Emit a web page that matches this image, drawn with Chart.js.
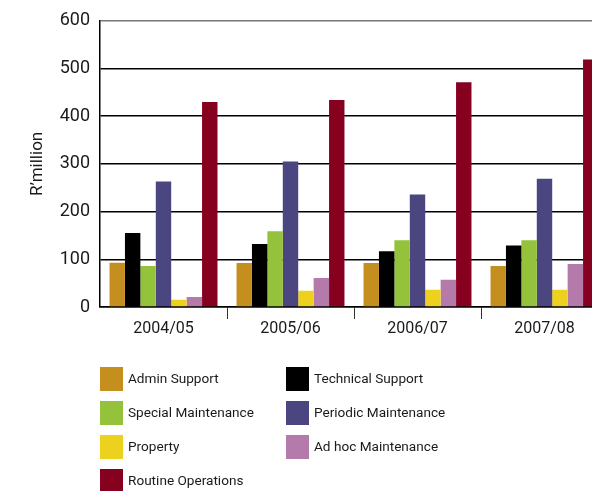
<!DOCTYPE html>
<html>
<head>
<meta charset="utf-8">
<script src="https://cdn.jsdelivr.net/npm/chart.js@4.4.0/dist/chart.umd.min.js"></script>
<style>
  html, body { margin: 0; padding: 0; background: #fff; overflow: hidden; }
  #wrap { width: 592px; height: 491px; overflow: hidden; }
</style>
</head>
<body>
<div id="wrap"><canvas id="myChart" width="608" height="491"></canvas></div>
<script>
// data (R'million)
const categories = ['2004/05', '2005/06', '2006/07', '2007/08'];
const adminSupport = [93, 92, 92, 86];
const technicalSupport = [155, 132, 117, 129];
const specialMaintenance = [86, 159, 140, 140];
const periodicMaintenance = [263, 305, 236, 269];
const property = [15, 34, 36, 36];
const adHocMaintenance = [21, 61, 57, 90];
const routineOperations = [430, 434, 471, 519];
const yMin = 0, yMax = 600, yStep = 100;

const fontFamily = "'Roboto', sans-serif";

const ctx = document.getElementById('myChart');

// legend drawn on the canvas in two columns, like the original
const gridLegend = {
    id: 'gridLegend',
    afterDraw(chart) {
        const c = chart.ctx;
        const sets = chart.data.datasets;
        c.save();
        c.font = '13.6px ' + fontFamily;
        c.textBaseline = 'middle';
        sets.forEach(function(ds, i) {
            const col = i % 2, row = Math.floor(i / 2);
            const x = 100 + col * 186;
            const y = 367 + row * 34;
            c.fillStyle = ds.backgroundColor;
            c.fillRect(x, y, 23, 24);
            c.fillStyle = '#1a1a1a';
            c.fillText(ds.label, x + 28, y + 13);
        });
        c.restore();
    }
};

var graphData = {
    type: 'bar',
    data: {
        labels: categories,
        datasets: [
            { label: 'Admin Support', data: adminSupport, backgroundColor: '#C48F1F' },
            { label: 'Technical Support', data: technicalSupport, backgroundColor: '#000000' },
            { label: 'Special Maintenance', data: specialMaintenance, backgroundColor: '#95C23B' },
            { label: 'Periodic Maintenance', data: periodicMaintenance, backgroundColor: '#4B4580' },
            { label: 'Property', data: property, backgroundColor: '#EDD11E' },
            { label: 'Ad hoc Maintenance', data: adHocMaintenance, backgroundColor: '#B47BAA' },
            { label: 'Routine Operations', data: routineOperations, backgroundColor: '#860020' }
        ]
    },
    options: {
        responsive: false,
        animation: false,
        layout: { padding: { top: 20, left: 0, right: 0, bottom: 0 } },
        datasets: { bar: { categoryPercentage: 0.85, barPercentage: 1.0 } },
        plugins: {
            legend: { display: false },
            tooltip: { enabled: false }
        },
        scales: {
            x: {
                afterFit: function(scale) { scale.height = 184; },
                grid: {
                    offset: true,
                    drawOnChartArea: false,
                    drawTicks: true,
                    tickLength: 12,
                    lineWidth: 1,
                    color: function(c) { return c.index === 0 ? 'rgba(0,0,0,0)' : '#333'; }
                },
                border: { display: true, color: '#000', width: 1.5 },
                ticks: { color: '#1a1a1a', font: { family: fontFamily, size: 16 }, padding: 0 }
            },
            y: {
                min: yMin,
                max: yMax,
                afterFit: function(scale) { scale.width = 100; },
                ticks: { stepSize: yStep, color: '#1a1a1a', font: { family: fontFamily, size: 18 }, padding: 10 },
                grid: {
                    drawTicks: false,
                    lineWidth: 1.5,
                    color: function(c) { return c.tick && c.tick.value === yMax ? '#777' : '#000'; }
                },
                border: { display: true, color: '#000', width: 1.5 },
                title: {
                    display: true,
                    text: 'R\u2019million',
                    color: '#1a1a1a',
                    font: { family: fontFamily, size: 17 },
                    padding: { top: 28, bottom: 0 }
                }
            }
        }
    },
    plugins: [gridLegend]
};

var myChart = new Chart(ctx, graphData);
</script>
</body>
</html>
